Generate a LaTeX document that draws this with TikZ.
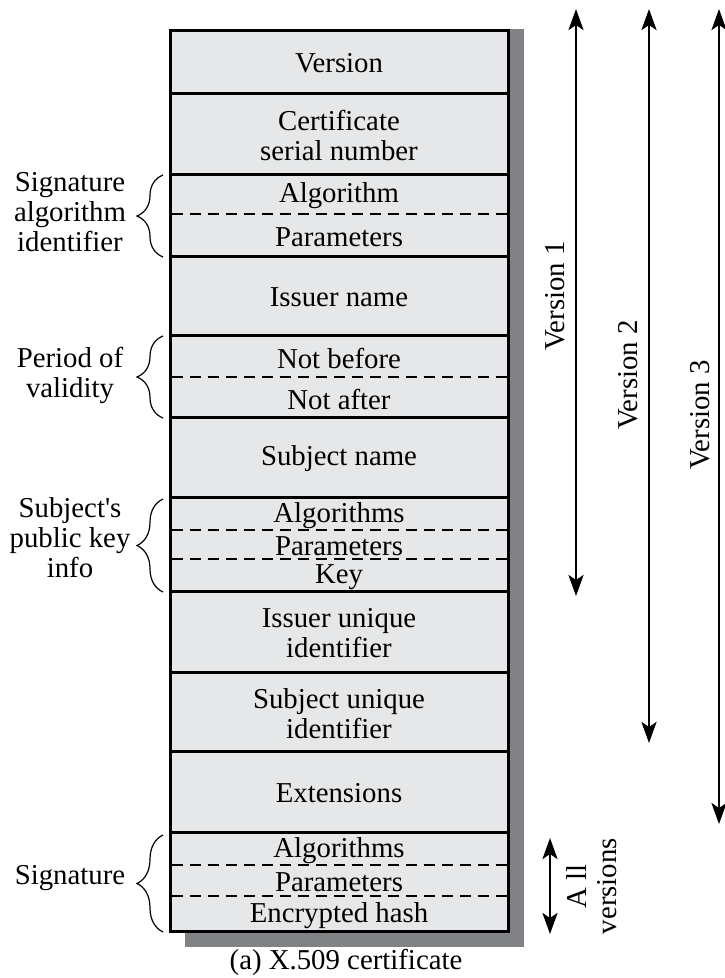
\documentclass[tikz,border=0pt]{standalone}
\usepackage{fontspec}
\setmainfont{Liberation Serif}
\newfontfamily\plainserif{Liberation Serif}
\usetikzlibrary{arrows.meta,decorations.pathreplacing}
\definecolor{cellgray}{HTML}{E6E7E8}
\definecolor{shadowgray}{HTML}{808285}
\tikzset{
  lbl/.style={font=\fontsize{28.8}{30}\selectfont, inner sep=0pt, align=center},
  cell/.style={lbl, yshift=-2pt},
  sepline/.style={line width=3pt},
  dashsep/.style={line width=1.5pt, dash pattern=on 11pt off 7pt},
  grpbrace/.style={decorate, decoration={brace, amplitude=26pt}, line width=1.2pt},
  varrow/.style={line width=2.6pt, {Stealth[length=21pt,width=15pt,inset=5pt]}-{Stealth[length=21pt,width=15pt,inset=5pt]}}
}
\begin{document}
\begin{tikzpicture}[x=1pt,y=-1pt]
\useasboundingbox (0,0) rectangle (724,978);
% shadow and box
\fill[shadowgray] (185,29) rectangle (524,947);
\filldraw[fill=cellgray, line width=3pt] (170,30) rectangle (508,931);
\foreach \y in {93,174,256,335,417,497,591,672,751,832}
  \draw[sepline] (170,\y) -- (508,\y);
\foreach \y in {214,377,530,559,865,896}
  \draw[dashsep] (171.5,\y) -- (506.5,\y);
% cell texts
\node[cell] (ver) at (339,61.5) {Version};
\node[cell] (serial) at (339,133.5) {Certificate\\serial number};
\node[cell] (salg) at (339,194) {Algorithm};
\node[cell] (spar) at (339,235) {Parameters};
\node[cell] (iss) at (339,295.5) {Issuer name};
\node[cell] (nb) at (339,356) {Not before};
\node[cell] (na) at (339,397) {Not after};
\node[cell] (subj) at (339,457) {Subject name};
\node[cell] (palg) at (339,513.5) {Algorithms};
\node[cell] (ppar) at (339,544.5) {Parameters};
\node[cell] (pkey) at (339,575) {Key};
\node[cell] (iuid) at (339,631.5) {Issuer unique\\identifier};
\node[cell] (suid) at (339,711.5) {Subject unique\\identifier};
\node[cell] (ext) at (339,791.5) {Extensions};
\node[cell] (galg) at (339,848.5) {Algorithms};
\node[cell] (gpar) at (339,880.5) {Parameters};
\node[cell] (ghash) at (339,913.5) {Encrypted hash};
% left labels and braces
\node[lbl] (lsig) at (70,212) {Signature\\algorithm\\identifier};
\node[lbl] (lper) at (70,375) {Period of\\validity};
\node[lbl] (lpk) at (70,538) {{\plainserif Subject's}\\public key\\info};
\node[lbl] (lsg) at (70,878) {Signature};
\coordinate (b1t) at (163,175); \coordinate (b1b) at (163,257);
\coordinate (b2t) at (163,336); \coordinate (b2b) at (163,418);
\coordinate (b3t) at (163,499); \coordinate (b3b) at (163,592);
\coordinate (b4t) at (163,835); \coordinate (b4b) at (163,932);
\draw[grpbrace] (b1b) -- (b1t);
\draw[grpbrace] (b2b) -- (b2t);
\draw[grpbrace] (b3b) -- (b3t);
\draw[grpbrace] (b4b) -- (b4t);
% version arrows
\coordinate (v1t) at (576,9); \coordinate (v1b) at (576,596);
\coordinate (v2t) at (649,9); \coordinate (v2b) at (649,743);
\coordinate (v3t) at (719,9); \coordinate (v3b) at (719,824);
\coordinate (vat) at (550,838); \coordinate (vab) at (550,934);
\draw[varrow] (v1t) -- (v1b);
\draw[varrow] (v2t) -- (v2b);
\draw[varrow] (v3t) -- (v3b);
\draw[varrow] (vat) -- (vab);
\node[lbl, rotate=90] (lv1) at (555,296) {Version 1};
\node[lbl, rotate=90] (lv2) at (628,375) {Version 2};
\node[lbl, rotate=90] (lv3) at (700,415) {Version 3};
\node[lbl, rotate=90] (lall) at (592,886) {A ll\\versions};
% caption
\node[lbl] (cap) at (346,962) {(a) X.509 certificate};
\end{tikzpicture}
\end{document}
